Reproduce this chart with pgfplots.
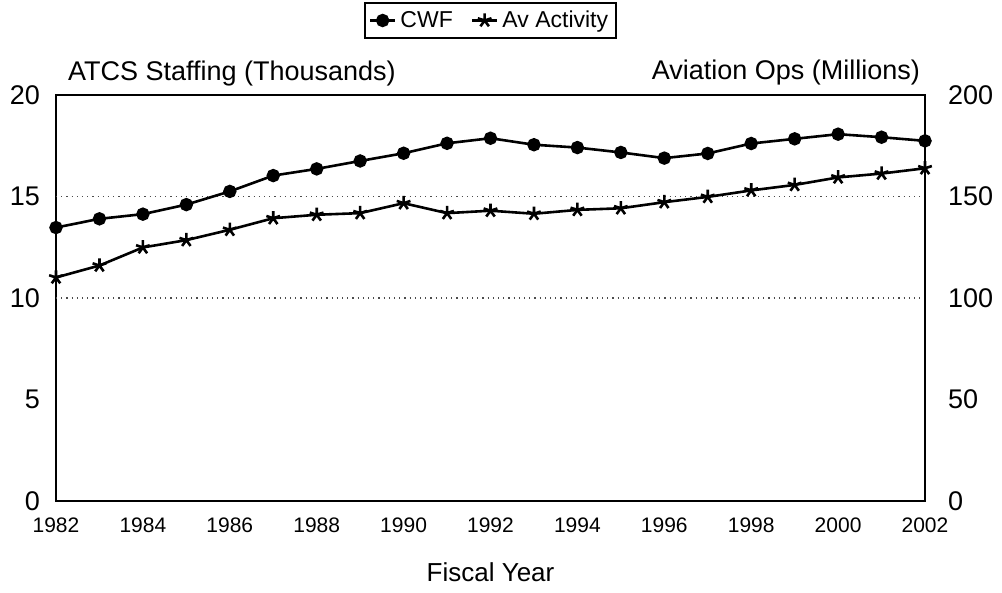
\documentclass[border=0pt]{standalone}
\usepackage{pgfplots}
\pgfplotsset{compat=1.18}
\usepackage{fontspec}
\setmainfont{Liberation Sans}
\begin{document}
\begin{tikzpicture}[x=1pt,y=1pt]
\useasboundingbox (0,0) rectangle (501,296.5);
\pgfplotsset{
  myaxis/.style={
    at={(28pt,46pt)}, anchor=south west,
    scale only axis, width=434.5pt, height=203pt,
    xmin=1982, xmax=2002,
    major tick length=0pt,
    clip=false,
    axis line style={line width=1pt},
    /pgf/number format/assume math mode=true,
    /pgf/number format/1000 sep={},
    yticklabel style={font=\fontsize{13.5}{15}\selectfont},
  }
}
\begin{axis}[
  myaxis,
  ymin=0, ymax=20,
  xtick={1982,1984,...,2002},
  ytick={0,5,10,15,20},
  xticklabel style={font=\fontsize{10.5}{12}\selectfont, yshift=-5pt},
  yticklabel style={xshift=-4.5pt},
  legend style={at={(0.5,1.1835)}, anchor=center, legend columns=2,
    draw=black, line width=0.9pt, inner sep=2pt,
    font=\fontsize{11.5}{13}\selectfont,
    /tikz/every even column/.append style={column sep=7pt}},
  legend image code/.code={
    \draw[mark repeat=2,mark phase=2] plot coordinates {(0cm,0cm) (0.22cm,0cm) (0.44cm,0cm)};},
]
\draw[black!70, dotted, line width=0.6pt] (axis cs:1982,15) -- (axis cs:2002,15);
\draw[black!70, dotted, line width=0.6pt] (axis cs:1982,10) -- (axis cs:2002,10);
\addplot[black, line width=1.3pt, mark=*, mark size=2.7pt] coordinates {
(1982,13.47) (1983,13.90) (1984,14.13) (1985,14.60) (1986,15.25)
(1987,16.03) (1988,16.36) (1989,16.75) (1990,17.13) (1991,17.62)
(1992,17.87) (1993,17.55) (1994,17.41) (1995,17.17) (1996,16.89)
(1997,17.12) (1998,17.61) (1999,17.84) (2000,18.07) (2001,17.92)
(2002,17.74)};
\addlegendentry{CWF}
\addlegendimage{black, line width=1.3pt, mark=star, mark size=3.6pt}
\addlegendentry{Av Activity}
\node[anchor=base west, font=\fontsize{13.5}{15}\selectfont, xshift=2.5pt, yshift=7pt] at (rel axis cs:0,1) {ATCS Staffing (Thousands)};
\node[anchor=base east, font=\fontsize{13.5}{15}\selectfont, xshift=1pt, yshift=7.5pt] at (rel axis cs:1,1) {Aviation Ops (Millions)};
\node[anchor=base, font=\fontsize{13}{15}\selectfont, yshift=-40.5pt] at (rel axis cs:0.5,0) {Fiscal Year};
\end{axis}
\begin{axis}[
  myaxis,
  axis y line*=right, axis x line=none,
  ymin=0, ymax=200,
  ytick={0,50,100,150,200},
  yticklabel style={xshift=8pt},
]
\addplot[black, line width=1.3pt, mark=star, mark size=3.6pt] coordinates {
(1982,110.1) (1983,116.0) (1984,124.9) (1985,128.5) (1986,133.6)
(1987,139.3) (1988,141.0) (1989,141.8) (1990,146.7) (1991,141.8)
(1992,143.0) (1993,141.5) (1994,143.4) (1995,144.2) (1996,147.2)
(1997,149.8) (1998,153.0) (1999,155.7) (2000,159.4) (2001,161.3)
(2002,163.9)};
\end{axis}
\end{tikzpicture}
\end{document}
